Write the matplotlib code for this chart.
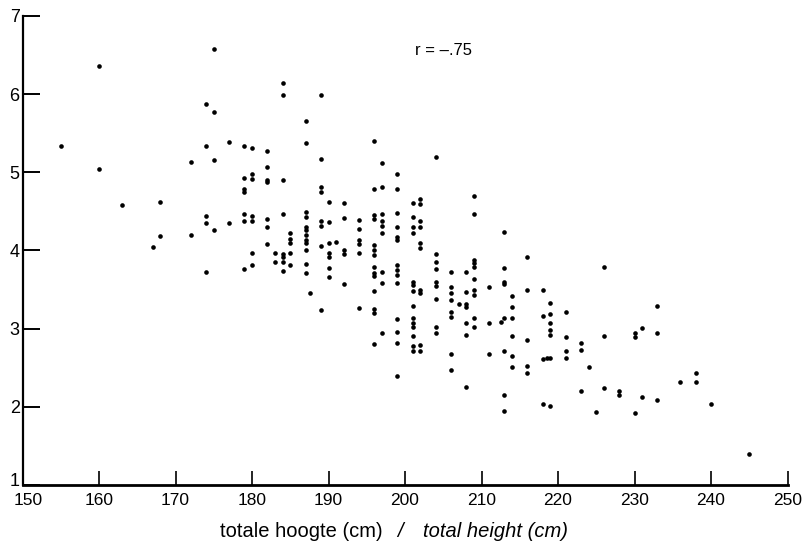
import matplotlib
matplotlib.use("Agg")
import matplotlib.pyplot as plt
import matplotlib.transforms as mtransforms

plt.rcParams['font.family'] = ['Liberation Sans', 'DejaVu Sans']

# total height (cm) and the y value, one line per height column
heights = (
    [155] + [160] * 2 + [163] + [167] + [168] * 2 + [172] * 2
    + [174] * 5 + [175] * 4 + [177] * 2 + [179] * 7 + [180] * 7
    + [182] * 7 + [183] * 2 + [184] * 8 + [185] * 5 + [187] * 12
    + [187.6] + [189] * 8 + [190] * 7 + [191] + [192] * 5 + [194] * 6
    + [196] * 14 + [197] * 9 + [199] * 14 + [201] * 14 + [202] * 10
    + [204] * 9 + [206] * 8 + [207] + [208] * 7 + [209] * 10
    + [211] * 3 + [212.5] + [213] * 8 + [214] * 6 + [216] * 5
    + [218] * 4 + [218.5] + [219] * 7 + [221] * 4 + [223] * 3
    + [224] + [225] + [226] * 3 + [228] * 2 + [230] * 3 + [231] * 2
    + [233] * 3 + [236] + [238] * 2 + [240] + [245]
)
values = [
    5.33,
    6.36, 5.04,
    4.58,
    4.04,
    4.62, 4.18,
    5.13, 4.20,
    5.87, 5.34, 4.44, 4.35, 3.72,
    6.57, 5.77, 5.15, 4.26,
    5.39, 4.35,
    5.33, 4.93, 4.79, 4.75, 4.46, 4.37, 3.76,
    5.31, 4.98, 4.91, 4.44, 4.38, 3.97, 3.82,
    5.27, 5.07, 4.90, 4.87, 4.40, 4.30, 4.08,
    3.97, 3.85,
    6.14, 5.99, 4.90, 4.47, 3.96, 3.91, 3.85, 3.74,
    4.22, 4.15, 4.10, 3.97, 3.81,
    5.65, 5.38, 4.49, 4.43, 4.30, 4.26, 4.20, 4.13, 4.10, 4.00, 3.83, 3.71,
    3.46,
    5.99, 5.17, 4.81, 4.75, 4.37, 4.31, 4.06, 3.24,
    4.62, 4.36, 4.10, 3.97, 3.91, 3.77, 3.66,
    4.11,
    4.61, 4.41, 4.00, 3.95, 3.57,
    4.39, 4.28, 4.13, 4.08, 3.97, 3.27,
    5.40, 4.78, 4.45, 4.40, 4.07, 4.00, 3.94, 3.79, 3.71, 3.67, 3.48, 3.25, 3.20, 2.80,
    5.12, 4.81, 4.47, 4.37, 4.31, 4.22, 3.72, 3.58, 2.94,
    4.98, 4.78, 4.48, 4.30, 4.17, 4.13, 3.82, 3.75, 3.68, 3.58, 3.12, 2.96, 2.81, 2.40,
    4.61, 4.43, 4.30, 4.22, 3.60, 3.56, 3.48, 3.29, 3.13, 3.07, 3.02, 2.90, 2.78, 2.71,
    4.66, 4.59, 4.37, 4.30, 4.10, 4.03, 3.49, 3.46, 2.79, 2.71,
    5.20, 3.95, 3.85, 3.76, 3.60, 3.55, 3.38, 3.02, 2.95,
    3.72, 3.53, 3.46, 3.36, 3.21, 3.15, 2.67, 2.47,
    3.31,
    3.72, 3.47, 3.32, 3.28, 3.07, 2.92, 2.26,
    4.69, 4.47, 3.88, 3.84, 3.79, 3.64, 3.49, 3.43, 3.14, 3.02,
    3.53, 3.07, 2.67,
    3.08,
    4.24, 3.78, 3.59, 3.57, 3.14, 2.72, 2.15, 1.95,
    3.42, 3.28, 3.13, 2.90, 2.65, 2.51,
    3.92, 3.50, 2.86, 2.52, 2.43,
    3.49, 3.16, 2.61, 2.04,
    2.62,
    3.33, 3.19, 3.07, 2.98, 2.92, 2.62, 2.01,
    3.21, 2.89, 2.72, 2.62,
    2.82, 2.73, 2.20,
    2.51,
    1.94,
    3.79, 2.90, 2.24,
    2.20, 2.15,
    2.94, 2.89, 1.92,
    3.01, 2.12,
    3.29, 2.95, 2.09,
    2.32,
    2.43, 2.32,
    2.04,
    1.40,
]

x_ticks = list(range(150, 251, 10))
y_ticks = list(range(1, 8))

fig = plt.figure(figsize=(8.04, 5.45), dpi=100)
ax = fig.add_axes([0.028, 0.110, 0.9515, 0.861])

ax.scatter(heights, values, s=11, color="black", linewidths=0)

ax.set_xlim(150, 250)
ax.set_ylim(1, 7)
ax.set_xticks(x_ticks)
ax.set_yticks(y_ticks)

ax.spines["top"].set_visible(False)
ax.spines["right"].set_visible(False)
ax.spines["left"].set_linewidth(1.6)
ax.spines["bottom"].set_linewidth(2.0)
ax.tick_params(axis="x", direction="in", length=10, width=1.2, pad=6, labelsize=12.5)
ax.tick_params(axis="y", direction="in", length=12, width=1.4, pad=2, labelsize=13)

# corner labels: nudge "1" up and "150" right so they don't collide
lab_1 = ax.get_yticklabels()[0]
lab_1.set_transform(lab_1.get_transform() + mtransforms.ScaledTranslation(0, 4 / 72, fig.dpi_scale_trans))
lab_150 = ax.get_xticklabels()[0]
lab_150.set_transform(lab_150.get_transform() + mtransforms.ScaledTranslation(4 / 72, 0, fig.dpi_scale_trans))

ax.text(205, 6.55, "r = \u2013.75", ha="center", va="center", fontsize=12)

# x axis title, Dutch part upright, English part italic
fig.text(0.4764, 0.0147, "totale hoogte (cm)", ha="right", va="baseline", fontsize=14.5)
fig.text(0.4975, 0.0147, "/", ha="center", va="baseline", fontsize=14.5, style="italic")
fig.text(0.526, 0.0147, "total height (cm)", ha="left", va="baseline", fontsize=14.5, style="italic")

fig.savefig("out.png", dpi=100)
